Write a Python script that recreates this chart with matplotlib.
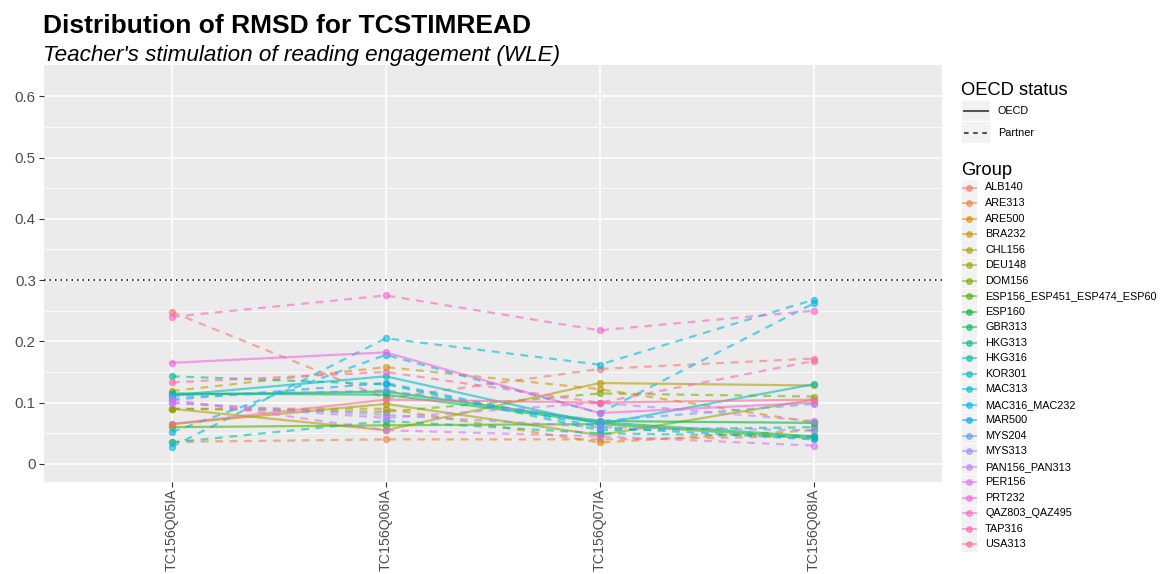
import numpy as np
import matplotlib
matplotlib.use("Agg")
import matplotlib.pyplot as plt
from matplotlib.lines import Line2D
from matplotlib.patches import Rectangle

plt.rcParams['font.family'] = ['Liberation Sans', 'DejaVu Sans']

items = ["TC156Q05IA", "TC156Q06IA", "TC156Q07IA", "TC156Q08IA"]
groups = ["ALB140", "ARE313", "ARE500", "BRA232", "CHL156", "DEU148", "DOM156",
          "ESP156_ESP451_ESP474_ESP60", "ESP160", "GBR313", "HKG313", "HKG316",
          "KOR301", "MAC313", "MAC316_MAC232", "MAR500", "MYS204", "MYS313",
          "PAN156_PAN313", "PER156", "PRT232", "QAZ803_QAZ495", "TAP316", "USA313"]
status = ["Partner", "Partner", "Partner", "Partner", "OECD", "OECD", "Partner",
          "OECD", "OECD", "OECD", "Partner", "Partner",
          "OECD", "Partner", "Partner", "Partner", "Partner", "Partner",
          "Partner", "Partner", "OECD", "Partner", "Partner", "OECD"]
rmsd = [
    [0.248, 0.107, 0.155, 0.172],  # ALB140
    [0.036, 0.040, 0.040, 0.045],  # ARE313
    [0.090, 0.090, 0.035, 0.055],  # ARE500
    [0.119, 0.158, 0.122, 0.068],  # BRA232
    [0.090, 0.055, 0.132, 0.128],  # CHL156
    [0.065, 0.098, 0.047, 0.105],  # DEU148
    [0.090, 0.085, 0.115, 0.110],  # DOM156
    [0.060, 0.063, 0.065, 0.042],  # ESP156...
    [0.113, 0.118, 0.070, 0.067],  # ESP160
    [0.115, 0.113, 0.068, 0.045],  # GBR313
    [0.143, 0.130, 0.055, 0.060],  # HKG313
    [0.035, 0.070, 0.050, 0.045],  # HKG316
    [0.112, 0.143, 0.065, 0.130],  # KOR301
    [0.028, 0.205, 0.162, 0.268],  # MAC313
    [0.052, 0.178, 0.083, 0.262],  # MAC316_MAC232
    [0.105, 0.132, 0.060, 0.040],  # MAR500
    [0.110, 0.120, 0.070, 0.098],  # MYS204
    [0.100, 0.080, 0.060, 0.055],  # MYS313
    [0.100, 0.075, 0.100, 0.070],  # PAN156_PAN313
    [0.105, 0.055, 0.045, 0.030],  # PER156
    [0.165, 0.182, 0.083, 0.100],  # PRT232
    [0.240, 0.275, 0.218, 0.250],  # QAZ803_QAZ495
    [0.133, 0.150, 0.100, 0.168],  # TAP316
    [0.065, 0.105, 0.100, 0.105],  # USA313
]
threshold = 0.3


def hcl(h, c=100.0, l=65.0):
    Yn = 100.0
    un, vn = 0.1978398, 0.4683363
    Y = Yn * ((l + 16) / 116) ** 3
    hr = np.deg2rad(h)
    u = c * np.cos(hr)
    v = c * np.sin(hr)
    up = u / (13 * l) + un
    vp = v / (13 * l) + vn
    X = Y * 9 * up / (4 * vp)
    Z = Y * (12 - 3 * up - 20 * vp) / (4 * vp)
    xyz = np.array([X, Y, Z]) / 100.0
    M = np.array([[3.2404542, -1.5371385, -0.4985314],
                  [-0.9692660, 1.8760108, 0.0415560],
                  [0.0556434, -0.2040259, 1.0572252]])
    rgb = M @ xyz
    rgb = np.where(rgb <= 0.0031308, 12.92 * rgb, 1.055 * np.power(np.clip(rgb, 0, None), 1 / 2.4) - 0.055)
    return tuple(np.clip(rgb, 0, 1))


n = len(groups)
hues = np.linspace(15, 375, n + 1)[:n]
colors = [hcl(h) for h in hues]

W, H = 1162, 574
fig = plt.figure(figsize=(W / 100, H / 100), dpi=100)
px = lambda x0, y0, x1, y1: [x0 / W, 1 - y1 / H, (x1 - x0) / W, (y1 - y0) / H]
ax = fig.add_axes(px(43.5, 65, 942, 482))
ax.set_facecolor('#EBEBEB')
for s in ax.spines.values():
    s.set_visible(False)

xpos = np.arange(len(items))
alpha = 0.6
for g, st, vals, col in zip(groups, status, rmsd, colors):
    ls = '-' if st == 'OECD' else (0, (3.5, 3.0))
    ax.plot(xpos, vals, color=col, lw=1.6, ls=ls, alpha=alpha, zorder=3)
    ax.plot(xpos, vals, ls='none', marker='o', ms=4.3, mfc=col, mec=col, alpha=alpha, zorder=4)

ax.axhline(threshold, color='black', lw=1.1, ls=(0, (1, 2.6)), zorder=5)

ax.set_xlim(-0.6, len(items) - 1 + 0.6)
ax.set_ylim(-0.0295, 0.651)
yt = np.round(np.arange(0, 0.61, 0.1), 1)
ax.set_yticks(yt)
ax.set_yticklabels(['0'] + [f'{v:.1f}' for v in yt[1:]])
ax.set_yticks(np.arange(0.05, 0.65, 0.1), minor=True)
ax.set_xticks(xpos)
ax.set_xticklabels(items, rotation=90)
ax.grid(which='major', color='white', lw=1.1, zorder=0)
ax.grid(which='minor', axis='y', color='white', lw=0.55, zorder=0)
ax.set_axisbelow(True)
ax.tick_params(which='major', length=3.5, width=0.8, color='#333333', labelcolor='#4D4D4D', pad=2)
ax.tick_params(axis='y', labelsize=10.8)
ax.tick_params(axis='x', labelsize=10.2, pad=1.5)
ax.tick_params(which='minor', length=0)

fig.text(43 / W, 1 - 33 / H, "Distribution of RMSD for TCSTIMREAD", fontsize=19,
         fontweight='bold', va='baseline', ha='left')
fig.text(43 / W, 1 - 61.5 / H, "Teacher's stimulation of reading engagement (WLE)", fontsize=16.2,
         style='italic', va='baseline', ha='left')

# legend
lg = fig.add_axes([0, 0, 1, 1], facecolor='none')
lg.set_xlim(0, W)
lg.set_ylim(H, 0)
lg.axis('off')
lg.text(961, 95, "OECD status", fontsize=13.2, va='baseline', ha='left')
for i, (lab, ls) in enumerate([("OECD", '-'), ("Partner", (0, (2.2, 2.2)))]):
    yc = 111 + i * 21.5
    lg.add_patch(Rectangle((961.5, yc - 10.3), 28, 20.6, facecolor='#F2F2F2', edgecolor='none'))
    lg.add_line(Line2D([963.5, 987.5], [yc, yc], color='#555555', lw=1.5, ls=ls))
    lg.text(998, yc, lab, fontsize=7.8, va='center', ha='left')
lg.text(961, 175, "Group", fontsize=13.2, va='baseline', ha='left')
for i, (g, col) in enumerate(zip(groups, colors)):
    yc = 187.5 + i * 15.52
    lg.add_patch(Rectangle((961.5, yc - 7.6), 15.5, 15.2, facecolor='#F2F2F2', edgecolor='none'))
    lg.add_line(Line2D([963, 975.5], [yc, yc], color=col, lw=1.3, alpha=alpha))
    lg.plot([969.2], [yc], marker='o', ms=4.0, color=col, alpha=alpha)
    lg.text(985, yc, g, fontsize=7.8, va='center', ha='left')

fig.savefig("out.png", dpi=100, facecolor='white')
